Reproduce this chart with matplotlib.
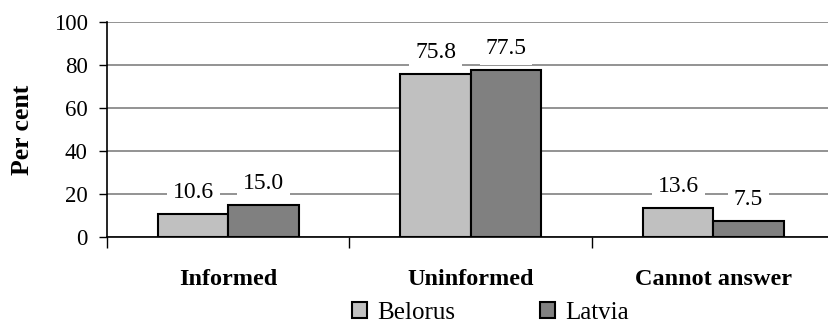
import matplotlib.pyplot as plt
import numpy as np

plt.rcParams['font.family'] = ['Liberation Serif', 'DejaVu Serif']

categories = ['Informed', 'Uninformed', 'Cannot answer']
series = ['Belorus', 'Latvia']
belorus = [10.6, 75.8, 13.6]
latvia = [15.0, 77.5, 7.5]
colors = ['#c0c0c0', '#808080']

fig = plt.figure(figsize=(8.29, 3.23), dpi=100)
ax = fig.add_axes([107 / 829, 1 - 237 / 323, 722 / 829, 215 / 323])

x = np.arange(len(categories))
w = 0.29
for vals, off, col, name in [(belorus, -w / 2, colors[0], series[0]),
                             (latvia, w / 2, colors[1], series[1])]:
    bars = ax.bar(x + off, vals, w, color=col, edgecolor='black',
                  linewidth=1.5, label=name, zorder=3)
    for b, v in zip(bars, vals):
        ax.annotate(f'{v:.1f}', (b.get_x() + b.get_width() / 2, v),
                    xytext=(0, 8), textcoords='offset points',
                    ha='center', va='bottom', fontsize=17, zorder=4,
                    bbox=dict(boxstyle='square,pad=0.25', fc='white', ec='none'))

ax.set_yticks(range(0, 101, 20))
ax.yaxis.grid(True, color='#808080', linewidth=1.2, zorder=0)
ax.set_axisbelow(True)
ax.tick_params(axis='y', labelsize=16.5, length=6, width=1, pad=8)

ax.set_xticks(x)
ax.set_xticklabels(categories, fontsize=17.5, fontweight='bold')
ax.set_xticks([-0.5, 0.5, 1.5, 2.5], minor=True)
ax.tick_params(axis='x', which='major', length=0, pad=23)
ax.tick_params(axis='x', which='minor', length=8, width=1)

# limits after the ticks, so the minor tick at 2.5 doesn't widen the view
ax.set_ylim(0, 100)
ax.set_xlim(-0.5, -0.5 + 722 / 242.5)

for s in ['top', 'right']:
    ax.spines[s].set_visible(False)
for s in ['left', 'bottom']:
    ax.spines[s].set_linewidth(1.2)

ax.set_ylabel('Per cent', fontsize=18.5, fontweight='bold', labelpad=14)

fig.legend(loc='center', bbox_to_anchor=(0.592, 1 - 313 / 323), ncol=2,
           frameon=False, fontsize=18, handlelength=0.6, handleheight=0.6,
           handletextpad=0.4, columnspacing=3.4, borderaxespad=0)

fig.savefig('out.png', dpi=100)
